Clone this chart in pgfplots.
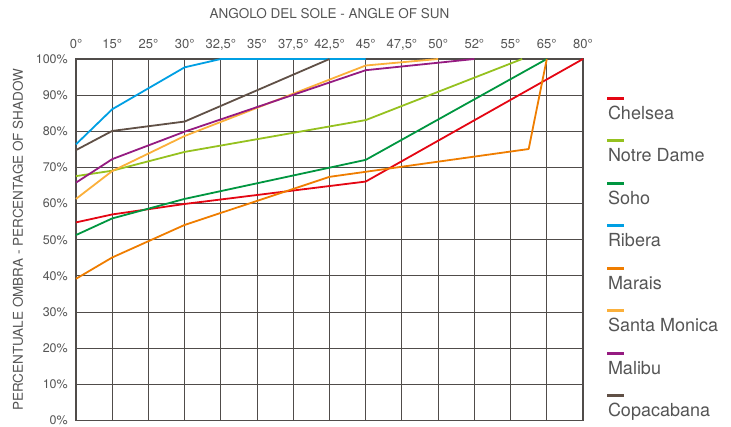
\documentclass[border=0pt]{standalone}
\usepackage{fontspec}
\setmainfont{TeX Gyre Heros}
\usepackage{pgfplots}
\pgfplotsset{compat=1.18}
\definecolor{txt}{RGB}{85,85,85}
\definecolor{gridc}{RGB}{80,76,74}
\definecolor{chelsea}{RGB}{228,6,19}
\definecolor{notre}{RGB}{149,193,31}
\definecolor{soho}{RGB}{0,150,64}
\definecolor{ribera}{RGB}{0,159,227}
\definecolor{marais}{RGB}{239,125,0}
\definecolor{santa}{RGB}{251,176,59}
\definecolor{malibu}{RGB}{149,27,129}
\definecolor{copa}{RGB}{96,80,70}
\begin{document}
\begin{tikzpicture}
\useasboundingbox (-76pt,-5.5pt) rectangle (655pt,420.5pt);
\begin{axis}[
  at={(0,0)}, anchor=south west,
  scale only axis, width=507pt, height=361.5pt,
  xmin=0, xmax=14, ymin=0, ymax=100,
  clip=false,
  xtick={0,1,...,14},
  xticklabels={0°,15°,25°,30°,{32,5°},35°,{37,5°},{42,5°},45°,{47,5°},50°,52°,55°,65°,80°},
  xticklabel pos=upper,
  ytick={0,10,...,100},
  yticklabels={0\%,10\%,20\%,30\%,40\%,50\%,60\%,70\%,80\%,90\%,100\%},
  major tick length=0pt,
  grid=major,
  major grid style={gridc, line width=1.1pt},
  axis line style={gridc, line width=1.1pt},
  tick label style={font=\fontsize{12.5}{14}\selectfont, text=txt},
  xticklabel style={anchor=base, inner sep=0pt, yshift=10pt, font=\fontsize{13}{15}\selectfont},
  yticklabel style={anchor=east, inner sep=0pt, xshift=-8pt},
  title={ANGOLO DEL SOLE - ANGLE OF SUN},
  every axis title/.style={at={(0.5,1)}, anchor=center, yshift=45pt, font=\fontsize{13.5}{15}\selectfont, text=txt},
  ylabel={PERCENTUALE OMBRA - PERCENTAGE OF SHADOW},
  every axis y label/.style={at={(axis description cs:0,0.5)}, xshift=-58pt, rotate=90, anchor=center, font=\fontsize{13.5}{15}\selectfont, text=txt},
  legend cell align=left,
  legend style={draw=none, fill=none, at={(1,1)}, anchor=north west, xshift=23pt, yshift=-47pt,
    inner sep=0pt, row sep=25.5pt, column sep=0pt,
    font=\fontsize{18}{20}\selectfont, text=txt,
    nodes={inner sep=0pt, text height=13pt, text depth=4pt}},
  legend image code/.code={\draw[#1, line width=3.2pt, overlay] (0pt,16.5pt) -- (17pt,16.5pt); \path (0pt,0pt);},
  every axis plot/.append style={line width=1.8pt, line join=round},
]
\addplot[chelsea] coordinates {(0,54.8) (1,57.0) (3,59.9) (8,66.1) (14,100)};
\addlegendentry{Chelsea}
\addplot[notre] coordinates {(0,67.6) (1,69.1) (3,74.3) (8,83.1) (12.32,100)};
\addlegendentry{Notre Dame}
\addplot[soho] coordinates {(0,51.3) (1,55.9) (3,61.3) (8,72.1) (13,100)};
\addlegendentry{Soho}
\addplot[ribera] coordinates {(0,76.4) (1,86.1) (3,97.7) (4,100) (8,100)};
\addlegendentry{Ribera}
\addplot[marais] coordinates {(0,39.2) (1,45.1) (3,54.1) (7,67.4) (8,68.8) (12.5,75.1) (13,100)};
\addlegendentry{Marais}
\addplot[santa] coordinates {(0,61.3) (1,69.0) (3,78.7) (8,98.2) (10,100)};
\addlegendentry{Santa Monica}
\addplot[malibu] coordinates {(0,65.8) (1,72.3) (3,79.9) (8,96.9) (11,100)};
\addlegendentry{Malibu}
\addplot[copa] coordinates {(0,74.8) (1,80.1) (3,82.7) (7,100)};
\addlegendentry{Copacabana}
\end{axis}
\end{tikzpicture}
\end{document}
